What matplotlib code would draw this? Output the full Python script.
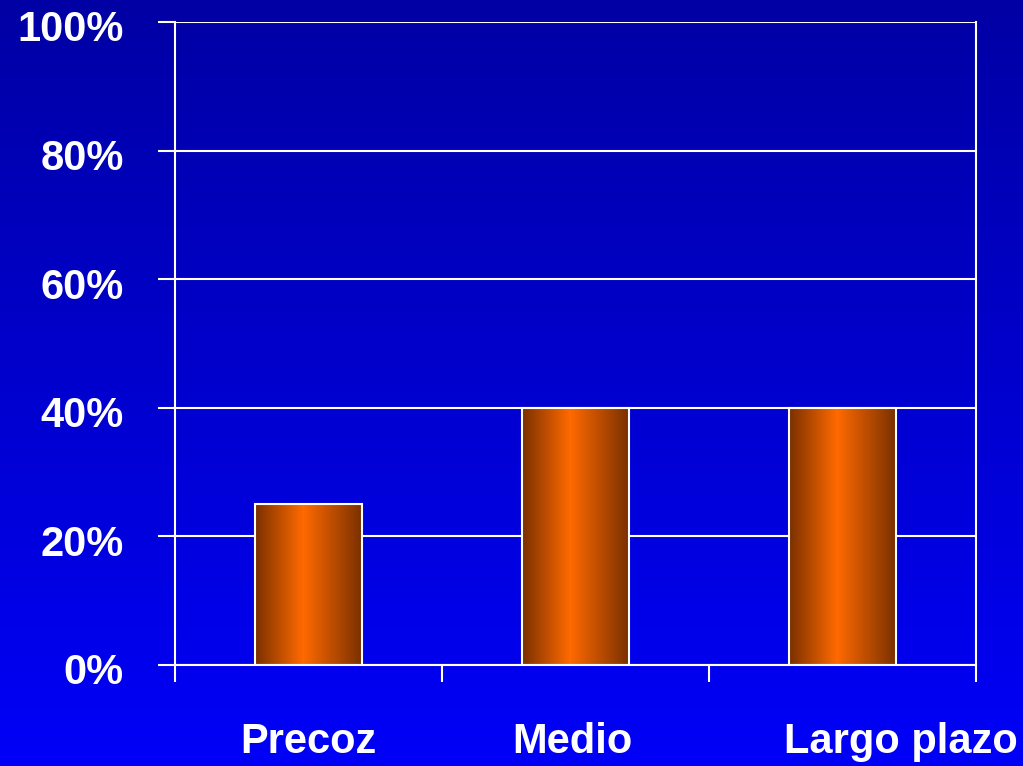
import numpy as np
import matplotlib
matplotlib.use("Agg")
import matplotlib.pyplot as plt
import matplotlib.transforms as mtransforms
from matplotlib.colors import LinearSegmentedColormap

# datos
categorias = ["Precoz", "Medio", "Largo plazo"]
valores = [25, 40, 40]
yticks = [0, 20, 40, 60, 80, 100]
ylabels = ["0%", "20%", "40%", "60%", "80%", "100%"]

plt.rcParams['font.family'] = ['Liberation Sans', 'DejaVu Sans']

fig = plt.figure(figsize=(10.23, 7.66), dpi=100)

# fondo degradado azul
bg = fig.add_axes([0, 0, 1, 1], zorder=0)
cmap_bg = LinearSegmentedColormap.from_list("fondo", ["#0000A4", "#0000F8"])
grad = np.linspace(0, 1, 256).reshape(-1, 1)
bg.imshow(grad, aspect="auto", cmap=cmap_bg, extent=[0, 1, 0, 1], origin="upper")
bg.axis("off")

ax = fig.add_axes([0.1711, 0.1319, 0.783, 0.8394], zorder=1)
ax.patch.set_alpha(0)

x = np.arange(len(categorias))
ancho = 0.4
cmap_bar = LinearSegmentedColormap.from_list(
    "barra", [(0, "#7A3000"), (0.45, "#FF6A00"), (1, "#7A3000")])
hgrad = np.linspace(0, 1, 256).reshape(1, -1)

barras = ax.bar(x, valores, width=ancho, facecolor="none", edgecolor="white",
                linewidth=1.5, zorder=3)
for b in barras:
    x0, y0 = b.get_x(), b.get_y()
    im = ax.imshow(hgrad, aspect="auto", cmap=cmap_bar,
                   extent=[x0, x0 + b.get_width(), y0, y0 + b.get_height()], zorder=2)
    im.set_clip_path(b)

ax.set_xlim(-0.5, 2.5)
ax.set_ylim(0, 100)

ax.set_yticks(yticks)
ax.set_yticklabels(ylabels)
ax.yaxis.grid(True, color="white", linewidth=1.5)
ax.set_axisbelow(True)

ax.set_xticks([-0.5, 0.5, 1.5, 2.5])
ax.set_xticklabels([])
ax.set_xticks(x, minor=True)
ax.set_xticklabels(categorias, minor=True)

ax.tick_params(axis="y", colors="white", length=12, width=1.5, pad=25,
               labelsize=30)
ax.tick_params(axis="x", which="major", colors="white", length=12, width=1.5)
ax.tick_params(axis="x", which="minor", colors="white", length=0, pad=41,
               labelsize=30)
for lbl in ax.get_yticklabels() + ax.get_xticklabels(minor=True):
    lbl.set_fontweight("bold")


def desplazar(lbl, dx, dy):
    lbl.set_transform(lbl.get_transform() +
                      mtransforms.ScaledTranslation(dx, dy, fig.dpi_scale_trans))


# etiquetas del eje y un poco por debajo de su linea
for lbl in ax.get_yticklabels():
    desplazar(lbl, 0, -0.04)

xl = ax.get_xticklabels(minor=True)
desplazar(xl[1], -0.03, 0)
desplazar(xl[2], 0.58, 0)

for s in ["left", "right", "bottom"]:
    ax.spines[s].set_color("white")
    ax.spines[s].set_linewidth(1.5)
ax.spines["top"].set_visible(False)

fig.savefig("out.png", dpi=100)
